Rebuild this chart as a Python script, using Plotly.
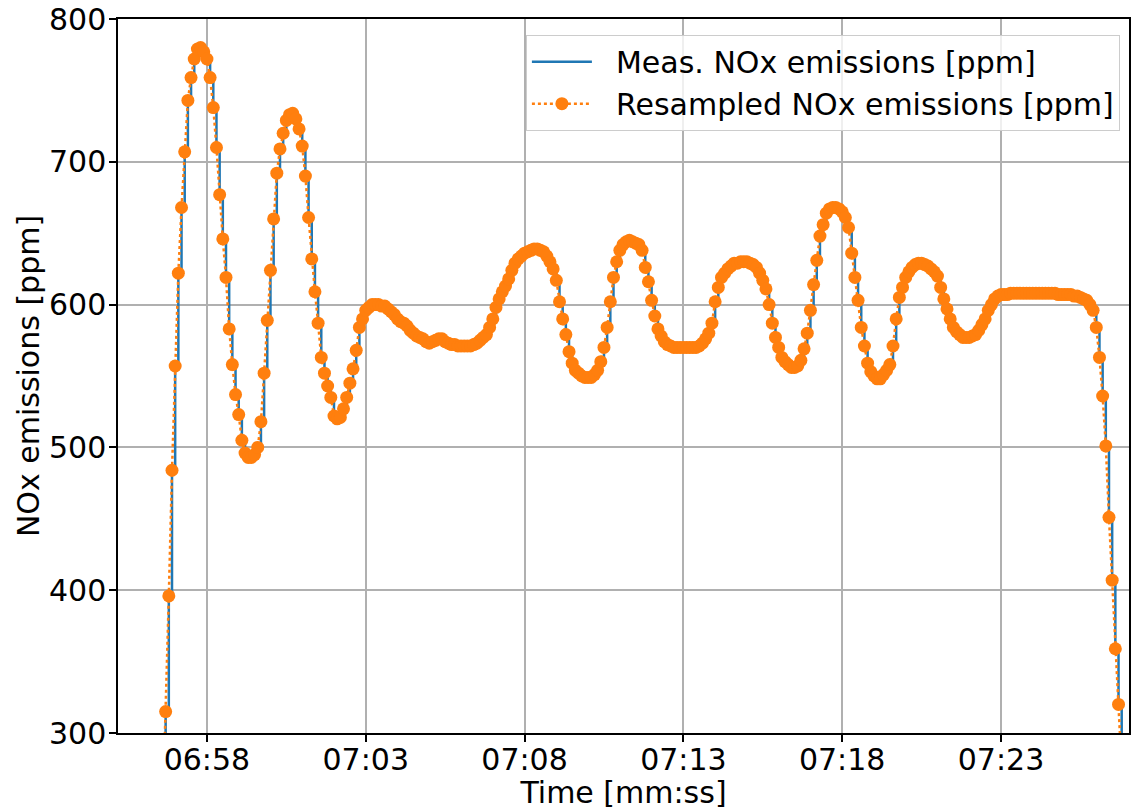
import pandas as pd
import plotly.graph_objects as go

# Resampled NOx signal at 10 Hz, starting at 06:56.6 (mm:ss)
START = "2000-01-01 00:06:56.600"
SAMPLE_PERIOD = "100ms"

NOX_PPM = [
    240,
    315, 396, 484, 557, 622, 668, 707, 743, 759, 772,
    779, 780, 777, 772, 759, 738, 710, 677, 646, 619,
    583, 558, 537, 523, 505, 496, 493, 493, 495, 500,
    518, 552, 589, 624, 660, 692, 709, 720, 729, 733,
    734, 730, 723, 711, 690, 661, 632, 609, 587, 563,
    552, 543, 535, 522, 520, 521, 527, 535, 545, 555,
    568, 584, 590, 596, 598, 600, 600, 600, 599, 599,
    597, 595, 593, 590, 588, 587, 585, 582, 580, 578,
    577, 576, 574, 573, 574, 575, 576, 576, 574, 573,
    572, 572, 571, 571, 571, 571, 571, 572, 573, 575,
    577, 579, 584, 590, 598, 604, 609, 613, 618, 624,
    629, 632, 634, 636, 637, 638, 639, 639, 638, 637,
    634, 630, 625, 617, 602, 590, 579, 567, 559, 554,
    552, 550, 549, 549, 549, 551, 554, 560, 570, 584,
    602, 619, 630, 638, 642, 644, 645, 644, 643, 642,
    638, 626, 616, 603, 592, 583, 578, 574, 572, 571,
    570, 570, 570, 570, 570, 570, 570, 570, 571, 573,
    576, 580, 587, 602, 612, 619, 622, 625, 627, 629,
    629, 630, 630, 630, 629, 628, 626, 622, 617, 611,
    600, 587, 577, 570, 563, 560, 558, 556, 556, 557,
    561, 569, 580, 596, 614, 631, 648, 656, 664, 667,
    668, 668, 667, 665, 661, 654, 636, 619, 603, 584,
    571, 559, 553, 550, 548, 548, 551, 554, 558, 571,
    590, 605, 612, 619, 623, 626, 628, 629, 629, 628,
    627, 625, 623, 620, 612, 604, 597, 590, 584, 581,
    579, 577, 577, 577, 578, 579, 582, 586, 590, 596,
    600, 604, 606, 607, 607, 607, 608, 608, 608, 608,
    608, 608, 608, 608, 608, 608, 608, 608, 608, 608,
    608, 607, 607, 607, 607, 607, 606, 606, 605, 604,
    603, 600, 596, 584, 563, 536, 501, 451, 407, 359,
    320, 275,
]

X_RANGE = ["2000-01-01 00:06:55.20", "2000-01-01 00:07:27.03"]
Y_RANGE = [300, 800]

times = pd.date_range(START, periods=len(NOX_PPM), freq=SAMPLE_PERIOD)

FONT = "DejaVu Sans"
FS = 30
BLUE = "#1f77b4"
ORANGE = "#ff7f0e"
GAP = "\u00a0\u00a0"  # spacing between legend symbol and label

fig = go.Figure()
fig.add_trace(go.Scatter(
    x=times, y=NOX_PPM, mode="lines",
    line=dict(color=BLUE, width=2.5, shape="hv"),
    name=GAP + "Meas. NOx emissions [ppm]",
))
fig.add_trace(go.Scatter(
    x=times, y=NOX_PPM, mode="lines+markers",
    line=dict(color=ORANGE, width=2.5, dash="dot"),
    marker=dict(size=13, color=ORANGE),
    name=GAP + "Resampled NOx emissions [ppm]",
))

axis_style = dict(
    showgrid=True, gridcolor="#b0b0b0", gridwidth=1.5,
    showline=True, linecolor="black", linewidth=1.5, mirror=True,
    ticks="outside", ticklen=7, tickwidth=1.5, tickcolor="black",
    tickfont=dict(family=FONT, size=FS, color="black"),
    zeroline=False,
)

fig.update_layout(
    width=1132, height=810,
    margin=dict(l=118, r=1, t=19, b=77),
    paper_bgcolor="white", plot_bgcolor="white",
    font=dict(family=FONT, size=FS, color="black"),
    xaxis=dict(
        type="date", range=X_RANGE,
        tick0="2000-01-01 00:06:58", dtick=5000, tickformat="%M:%S",
        ticklabelstandoff=-8,
        title=dict(text="Time [mm:ss]", font=dict(family=FONT, size=FS), standoff=0),
        **axis_style,
    ),
    yaxis=dict(
        range=Y_RANGE, dtick=100, tick0=300,
        ticklabelstandoff=-3,
        title=dict(text="NOx emissions [ppm]", font=dict(family=FONT, size=FS), standoff=0),
        **axis_style,
    ),
    legend=dict(
        x=0.991, y=0.978, xanchor="right", yanchor="top",
        bgcolor="rgba(255,255,255,0.8)", bordercolor="#cccccc", borderwidth=1,
        font=dict(family=FONT, size=FS, color="black"),
        itemwidth=60,
    ),
    showlegend=True,
)

fig.write_html("out.html")
